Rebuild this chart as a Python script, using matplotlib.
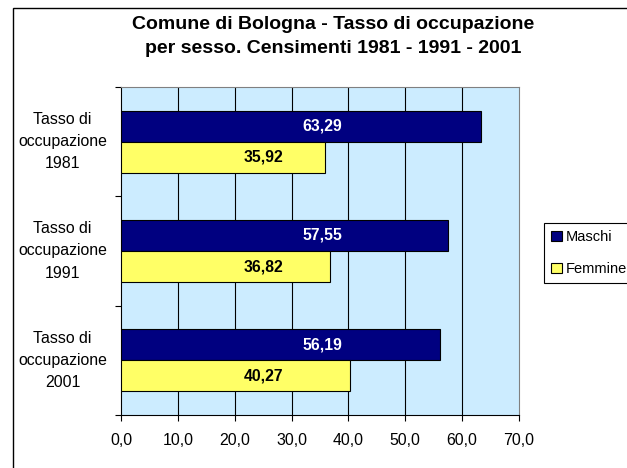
import numpy as np
import matplotlib
matplotlib.use("Agg")
import matplotlib.pyplot as plt
from matplotlib.patches import Rectangle

plt.rcParams['font.family'] = ['Liberation Sans', 'DejaVu Sans']

# dati
categorie = ["Tasso di\noccupazione\n1981", "Tasso di\noccupazione\n1991", "Tasso di\noccupazione\n2001"]
maschi = [63.29, 57.55, 56.19]
femmine = [35.92, 36.82, 40.27]
etichette_maschi = ["63,29", "57,55", "56,19"]
etichette_femmine = ["35,92", "36,82", "40,27"]
xticks = [0, 10, 20, 30, 40, 50, 60, 70]
xtick_labels = ["0,0", "10,0", "20,0", "30,0", "40,0", "50,0", "60,0", "70,0"]
titolo = "Comune di Bologna - Tasso di occupazione\nper sesso. Censimenti 1981 - 1991 - 2001"

W, H = 627, 468
fig = plt.figure(figsize=(W / 100, H / 100), dpi=100)

# cornice esterna (taglia a destra e in basso)
fig.patches.append(Rectangle((13 / W, -0.1), 1.2, 1 - 8 / H + 0.1, transform=fig.transFigure,
                             fill=False, edgecolor="black", linewidth=1.0))

ax = fig.add_axes([121 / W, 1 - 415 / H, 398 / W, 328 / H])
ax.set_facecolor("#CCECFF")

y = np.arange(len(categorie))
h = 0.284
ax.barh(y - h / 2, maschi, height=h, color="#000080", edgecolor="black", linewidth=0.8, zorder=3, label="Maschi")
ax.barh(y + h / 2, femmine, height=h, color="#FFFF66", edgecolor="black", linewidth=0.8, zorder=3, label="Femmine")

# etichette valori (posizioni fisse come nell'originale)
for i in range(len(categorie)):
    ax.text(35.4, y[i] - h / 2, etichette_maschi[i], color="white", fontsize=11.3, fontweight="bold",
            ha="center", va="center", zorder=4)
    ax.text(25.0, y[i] + h / 2, etichette_femmine[i], color="black", fontsize=11.3, fontweight="bold",
            ha="center", va="center", zorder=4)

ax.set_xlim(0, 70)
ax.set_ylim(2.5, -0.5)
ax.set_xticks(xticks)
ax.set_xticklabels(xtick_labels, fontsize=11.4)
ax.set_yticks(y)
ax.set_yticklabels(categorie, fontsize=11.4, ha="center", va="center", linespacing=1.6)
ax.set_yticks([-0.5, 0.5, 1.5, 2.5], minor=True)
ax.tick_params(axis="y", which="major", length=0, pad=42)
ax.tick_params(axis="y", which="minor", length=4, width=0.8, direction="out")
ax.tick_params(axis="x", length=4, width=0.8, direction="out", pad=9)

for xv in xticks[1:-1]:
    ax.axvline(xv, color="black", linewidth=0.8, zorder=1)

ax.spines["left"].set_color("black")
ax.spines["bottom"].set_color("black")
ax.spines["top"].set_color("#808080")
ax.spines["right"].set_color("#808080")
for s in ax.spines.values():
    s.set_linewidth(0.8)

fig.text(333 / W, 1 - 36.5 / H, titolo, fontsize=14, fontweight="bold", ha="center", va="center",
         linespacing=1.55)

leg = fig.legend(loc="upper left", bbox_to_anchor=(544 / W, 1 - 223 / H), bbox_transform=fig.transFigure,
                 fontsize=10.5, frameon=True, fancybox=False, edgecolor="black", framealpha=1,
                 borderaxespad=0, handlelength=0.7, handleheight=0.7, handletextpad=0.3,
                 labelspacing=1.2, borderpad=0.5)
leg.get_frame().set_linewidth(0.8)

fig.savefig("out.png", dpi=100)
